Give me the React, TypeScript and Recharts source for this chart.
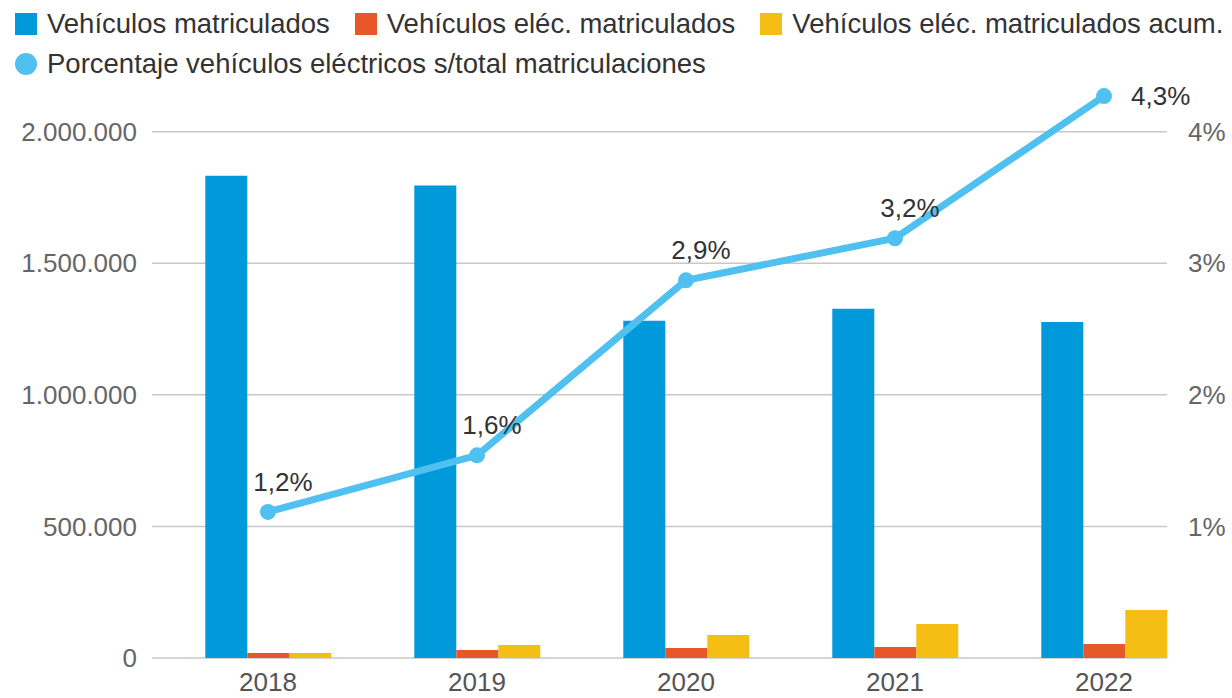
import { ComposedChart, Bar, Line, XAxis, YAxis, CartesianGrid, Legend, LabelList } from 'recharts';

const years = ['2018', '2019', '2020', '2021', '2022'];
const matriculados = [1832000, 1795000, 1281000, 1327000, 1277000];
const electricos = [19000, 30000, 38000, 42000, 53000];
const acumulados = [19000, 49000, 87000, 129000, 182000];
const porcentaje = [1.11, 1.54, 2.87, 3.19, 4.27];
const porcentajeLabels = ['1,2%', '1,6%', '2,9%', '3,2%', '4,3%'];
const leftTicks = [0, 500000, 1000000, 1500000, 2000000];
const rightTicks = [1, 2, 3, 4];

const data = years.map((year, i) => ({
  year,
  matriculados: matriculados[i],
  electricos: electricos[i],
  acumulados: acumulados[i],
  porcentaje: porcentaje[i],
}));

const FONT = '"Liberation Sans", Arial, sans-serif';
const BLUE = '#0099DA';
const ORANGE = '#E8572A';
const YELLOW = '#F4BE14';
const LINE = '#4FC0F0';

const legendItems = [
  { name: 'Vehículos matriculados', color: BLUE, circle: false },
  { name: 'Vehículos eléc. matriculados', color: ORANGE, circle: false },
  { name: 'Vehículos eléc. matriculados acum.', color: YELLOW, circle: false },
  { name: 'Porcentaje vehículos eléctricos s/total matriculaciones', color: LINE, circle: true },
];

const formatMiles = (v: number) => String(v).replace(/\B(?=(\d{3})+(?!\d))/g, '.');

const renderLegend = () => (
  <div
    style={{
      height: 79,
      boxSizing: 'border-box',
      paddingTop: 4,
      paddingLeft: 15,
      display: 'flex',
      flexWrap: 'wrap',
      alignContent: 'flex-start',
      columnGap: 25,
      fontFamily: FONT,
      fontSize: 27.5,
      color: '#333',
    }}
  >
    {legendItems.map((item) => (
      <div key={item.name} style={{ display: 'flex', alignItems: 'center', height: 40, whiteSpace: 'nowrap' }}>
        <span
          style={{
            display: 'inline-block',
            width: 22,
            height: 22,
            background: item.color,
            borderRadius: item.circle ? '50%' : 0,
            marginRight: 10,
          }}
        />
        {item.name}
      </div>
    ))}
  </div>
);

const renderPctLabel = (props: any) => {
  const { x, y, index } = props;
  const last = index === porcentaje.length - 1;
  return (
    <text
      x={last ? x + 27 : x + 15}
      y={last ? y : y - 30}
      textAnchor={last ? 'start' : 'middle'}
      dominantBaseline="central"
      fontFamily={FONT}
      fontSize={26}
      fill="#333"
    >
      {porcentajeLabels[index]}
    </text>
  );
};

export default function App() {
  return (
    <div style={{ position: 'absolute', left: 0, top: 0, background: '#fff' }}>
      <ComposedChart
        width={1232}
        height={698}
        data={data}
        margin={{ top: 0, right: 0, bottom: 0, left: 0 }}
        barCategoryGap="20%"
        barGap={0}
      >
        <Legend verticalAlign="top" align="left" content={renderLegend} wrapperStyle={{ top: 0, left: 0 }} />
        <CartesianGrid yAxisId="left" vertical={false} syncWithTicks stroke="#c8c8c8" strokeWidth={1.5} />
        <XAxis
          dataKey="year"
          axisLine={false}
          tickLine={false}
          height={40}
          tickMargin={9}
          padding={{ left: 11.5, right: -41.5 }}
          tick={{ fontSize: 26, fill: '#555', fontFamily: FONT }}
        />
        <YAxis
          yAxisId="left"
          width={152}
          domain={[0, 2200000]}
          ticks={leftTicks}
          tickFormatter={formatMiles}
          axisLine={false}
          tickLine={false}
          tickMargin={9}
          tick={{ fontSize: 26, fill: '#666', fontFamily: FONT }}
        />
        <YAxis
          yAxisId="right"
          orientation="right"
          width={65}
          domain={[0, 4.4]}
          ticks={rightTicks}
          tickFormatter={(v: number) => `${v}%`}
          axisLine={false}
          tickLine={false}
          tickMargin={15}
          tick={{ fontSize: 26, fill: '#666', fontFamily: FONT }}
        />
        <Bar yAxisId="left" dataKey="matriculados" name="Vehículos matriculados" fill={BLUE} isAnimationActive={false} />
        <Bar yAxisId="left" dataKey="electricos" name="Vehículos eléc. matriculados" fill={ORANGE} isAnimationActive={false} />
        <Bar yAxisId="left" dataKey="acumulados" name="Vehículos eléc. matriculados acum." fill={YELLOW} isAnimationActive={false} />
        <Line
          yAxisId="right"
          type="linear"
          dataKey="porcentaje"
          name="Porcentaje vehículos eléctricos s/total matriculaciones"
          stroke={LINE}
          strokeWidth={7}
          dot={{ r: 8, fill: LINE, stroke: 'none' }}
          activeDot={false}
          isAnimationActive={false}
        >
          <LabelList dataKey="porcentaje" content={renderPctLabel} />
        </Line>
      </ComposedChart>
    </div>
  );
}
